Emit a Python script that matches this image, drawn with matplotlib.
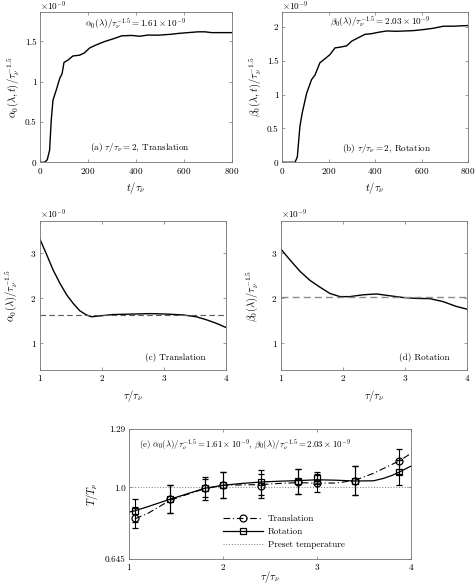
import matplotlib
matplotlib.use("Agg")
import matplotlib.pyplot as plt
from matplotlib.lines import Line2D

plt.rcParams['font.family'] = 'cmr10'
plt.rcParams['mathtext.fontset'] = 'cm'
plt.rcParams['axes.unicode_minus'] = False
plt.rcParams['axes.formatter.use_mathtext'] = True

# ---------------- data ----------------
# (a) translation, tau/tau_nu = 2  (units of 1e-9)
t_a = [0, 19, 30, 40, 47, 54, 68, 82, 92, 100, 117, 137, 165, 186, 207, 236, 270, 291,
       312, 340, 381, 416, 450, 492, 548, 576, 617, 659, 687, 715, 770, 800]
alpha_t = [0, 0, 0.03, 0.15, 0.53, 0.77, 0.90, 1.04, 1.10, 1.24, 1.27, 1.32, 1.33, 1.36,
           1.42, 1.46, 1.50, 1.52, 1.54, 1.57, 1.575, 1.565, 1.58, 1.578, 1.59, 1.60,
           1.61, 1.62, 1.62, 1.61, 1.61, 1.61]
# (b) rotation, tau/tau_nu = 2
t_b = [0, 56, 66, 77, 87, 106, 127, 142, 163, 185, 206, 228, 249, 278, 300, 328, 357,
       386, 414, 450, 493, 529, 565, 608, 651, 694, 737, 800]
beta_t = [0, 0, 0.08, 0.53, 0.73, 1.02, 1.22, 1.29, 1.47, 1.53, 1.59, 1.69, 1.70, 1.72,
          1.79, 1.84, 1.89, 1.90, 1.92, 1.94, 1.935, 1.94, 1.945, 1.96, 1.98, 2.01, 2.01,
          2.02]
alpha_mean = 1.61
beta_mean = 2.03

# (c) alpha vs tau
tau_c = [1.0, 1.11, 1.21, 1.32, 1.43, 1.54, 1.645, 1.75, 1.83, 1.97, 2.18, 2.5, 2.77,
         3.04, 3.31, 3.52, 3.69, 3.85, 4.0]
alpha_tau = [3.31, 2.96, 2.63, 2.33, 2.07, 1.87, 1.71, 1.62, 1.58, 1.60, 1.63, 1.64,
             1.65, 1.64, 1.62, 1.58, 1.51, 1.43, 1.34]
# (d) beta vs tau
tau_d = [1.0, 1.145, 1.31, 1.47, 1.63, 1.79, 1.95, 2.11, 2.32, 2.54, 2.75, 2.97, 3.18,
         3.40, 3.61, 3.83, 4.0]
beta_tau = [3.09, 2.85, 2.59, 2.39, 2.24, 2.10, 2.03, 2.03, 2.07, 2.09, 2.05, 2.01,
            1.99, 1.985, 1.92, 1.81, 1.75]

# (e) temperature ratio
tau_pts = [1.064, 1.43, 1.805, 2.0, 2.4, 2.8, 3.0, 3.4, 3.87]
T_trans = [0.850, 0.941, 0.996, 1.011, 1.009, 1.029, 1.020, 1.034, 1.130]
T_trans_err = [0.053, 0.07, 0.058, 0.065, 0.06, 0.062, 0.045, 0.07, 0.062]
T_rot = [0.885, 0.941, 0.996, 1.011, 1.027, 1.031, 1.045, 1.034, 1.075]
T_rot_err = [0.058, 0.07, 0.045, 0.065, 0.062, 0.062, 0.03, 0.07, 0.062]
tau_fit_trans = [1.064, 1.2, 1.43, 1.6, 1.805, 2.0, 2.2, 2.4, 2.6, 2.8, 3.0, 3.2, 3.4,
                 3.6, 3.8, 3.87, 4.0]
T_fit_trans = [0.845, 0.872, 0.935, 0.963, 0.994, 1.010, 1.013, 1.014, 1.020, 1.024,
               1.021, 1.022, 1.035, 1.070, 1.115, 1.130, 1.169]
tau_fit_rot = [1.0, 1.064, 1.2, 1.43, 1.6, 1.805, 2.0, 2.2, 2.4, 2.6, 2.8, 3.0, 3.2,
               3.4, 3.6, 3.7, 3.8, 3.87, 4.0]
T_fit_rot = [0.878, 0.885, 0.905, 0.941, 0.966, 0.996, 1.011, 1.020, 1.027, 1.031,
             1.034, 1.038, 1.036, 1.032, 1.033, 1.044, 1.060, 1.075, 1.106]
T_preset = 1.0

# ---------------- style ----------------
FS = 6.6
LFS = 7.6
SPC = '0.45'
W, H = 475, 587


def pos(l, r, t, b):
    return [l / W, 1 - b / H, (r - l) / W, (b - t) / H]


def style(ax):
    for s in ax.spines.values():
        s.set_color(SPC)
        s.set_linewidth(0.6)
    ax.tick_params(direction='in', length=2.5, width=0.5, color=SPC, labelsize=FS,
                   top=True, right=True, pad=2.5)


def exp_label(ax, ypix):
    x0 = ax.get_position().x0
    fig.text(x0, 1 - ypix / H, r'$\times 10^{-9}$', fontsize=FS, ha='left', va='center')


fig = plt.figure(figsize=(4.75, 5.87), dpi=100)

# (a)
ax = fig.add_axes(pos(40, 232, 12, 162.3))
ax.plot(t_a, alpha_t, color='k', lw=1.0)
ax.set_xlim(0, 800)
ax.set_ylim(0, 1.866)
ax.set_xticks([0, 200, 400, 600, 800])
ax.set_yticks([0, 0.5, 1, 1.5])
ax.set_yticklabels(['0', '0.5', '1', '1.5'])
style(ax)
exp_label(ax, 6)
ax.text(0.5, 0.92, r'$\alpha_0(\lambda)/\tau_\nu^{-1.5} = 1.61\times 10^{-9}$',
        transform=ax.transAxes, fontsize=FS, ha='center', va='center')
ax.text(0.52, 0.10, r'(a) $\tau/\tau_\nu = 2$, Translation', transform=ax.transAxes,
        fontsize=FS, ha='center', va='center')
ax.set_xlabel(r'$t/\tau_\nu$', fontsize=LFS, labelpad=3)
ax.set_ylabel(r'$\alpha_0(\lambda,t)/\tau_\nu^{-1.5}$', fontsize=LFS, labelpad=3)

# (b)
ax = fig.add_axes(pos(282, 468, 12, 162.3))
ax.plot(t_b, beta_t, color='k', lw=1.0)
ax.set_xlim(0, 800)
ax.set_ylim(0, 2.22)
ax.set_xticks([0, 200, 400, 600, 800])
ax.set_yticks([0, 0.5, 1, 1.5, 2])
ax.set_yticklabels(['0', '0.5', '1', '1.5', '2'])
style(ax)
exp_label(ax, 6)
ax.text(0.53, 0.935, r'$\beta_0(\lambda)/\tau_\nu^{-1.5} = 2.03\times 10^{-9}$',
        transform=ax.transAxes, fontsize=FS, ha='center', va='center')
ax.text(0.56, 0.09, r'(b) $\tau/\tau_\nu = 2$, Rotation', transform=ax.transAxes,
        fontsize=FS, ha='center', va='center')
ax.set_xlabel(r'$t/\tau_\nu$', fontsize=LFS, labelpad=3)
ax.set_ylabel(r'$\beta_0(\lambda,t)/\tau_\nu^{-1.5}$', fontsize=LFS, labelpad=3)

# (c)
ax = fig.add_axes(pos(40, 226, 221, 370))
ax.plot(tau_c, alpha_tau, color='k', lw=1.0)
ax.axhline(alpha_mean, color='0.35', lw=0.8, ls=(0, (5, 3)))
ax.set_xlim(1, 4)
ax.set_ylim(0.39, 3.72)
ax.set_xticks([1, 2, 3, 4])
ax.set_yticks([1, 2, 3])
style(ax)
exp_label(ax, 214)
ax.text(0.73, 0.085, '(c) Translation', transform=ax.transAxes, fontsize=FS,
        ha='center', va='center')
ax.set_xlabel(r'$\tau/\tau_\nu$', fontsize=LFS, labelpad=3)
ax.set_ylabel(r'$\alpha_0(\lambda)/\tau_\nu^{-1.5}$', fontsize=LFS, labelpad=8)

# (d)
ax = fig.add_axes(pos(281, 467, 221, 370))
ax.plot(tau_d, beta_tau, color='k', lw=1.0)
ax.axhline(beta_mean, color='0.55', lw=1.0, ls=(0, (5, 3)))
ax.set_xlim(1, 4)
ax.set_ylim(0.39, 3.72)
ax.set_xticks([1, 2, 3, 4])
ax.set_yticks([1, 2, 3])
style(ax)
exp_label(ax, 214)
ax.text(0.77, 0.085, '(d) Rotation', transform=ax.transAxes, fontsize=FS,
        ha='center', va='center')
ax.set_xlabel(r'$\tau/\tau_\nu$', fontsize=LFS, labelpad=3)
ax.set_ylabel(r'$\beta_0(\lambda)/\tau_\nu^{-1.5}$', fontsize=LFS, labelpad=8)

# (e)
ax = fig.add_axes(pos(129.3, 411, 429, 559))
ax.axhline(T_preset, color='0.55', lw=0.8, ls=(0, (1, 1.5)))
ax.plot(tau_fit_trans, T_fit_trans, color='k', lw=0.8, ls=(0, (6, 2.5, 1, 2.5)))
ax.plot(tau_fit_rot, T_fit_rot, color='k', lw=0.9, ls='-')
ax.errorbar(tau_pts, T_trans, yerr=T_trans_err, fmt='o', mfc='none', mec='k', ms=5,
            mew=0.9, ecolor='k', elinewidth=0.8, capsize=2, capthick=0.8)
ax.errorbar(tau_pts, T_rot, yerr=T_rot_err, fmt='s', mfc='none', mec='k', ms=4.5,
            mew=0.9, ecolor='k', elinewidth=0.8, capsize=2, capthick=0.8)
ax.set_xlim(1, 4)
ax.set_ylim(0.645, 1.29)
ax.set_xticks([1, 2, 3, 4])
ax.set_yticks([0.645, 1.0, 1.29])
ax.set_yticklabels(['0.645', '1.0', '1.29'])
style(ax)
ax.text(0.035, 0.885,
        r'(e) $\alpha_0(\lambda)/\tau_\nu^{-1.5} = 1.61\times 10^{-9}$, '
        r'$\beta_0(\lambda)/\tau_\nu^{-1.5} = 2.03\times 10^{-9}$',
        transform=ax.transAxes, fontsize=FS * 0.96, ha='left', va='center')
ax.set_ylabel(r'$T/T_p$', fontsize=LFS, labelpad=4)
fig.text((129.3 + 411) / 2 / W, 1 - 577 / H, r'$\tau/\tau_\nu$', fontsize=LFS,
         ha='center', va='center')
handles = [
    Line2D([], [], color='k', lw=0.8, ls=(0, (6, 2.5, 1, 2.5)), marker='o', mfc='none',
           mec='k', ms=5, mew=0.9),
    Line2D([], [], color='k', lw=0.9, ls='-', marker='s', mfc='none', mec='k', ms=4.5,
           mew=0.9),
    Line2D([], [], color='0.55', lw=0.8, ls=(0, (1, 1.5))),
]
ax.legend(handles, ['Translation', 'Rotation', 'Preset temperature'], loc='upper left',
          bbox_to_anchor=(0.333, 0.34), frameon=False, fontsize=FS, borderpad=0,
          borderaxespad=0, handlelength=4.4, handletextpad=0.5, labelspacing=0.5,
          numpoints=1)

fig.savefig('out.png', dpi=100)
